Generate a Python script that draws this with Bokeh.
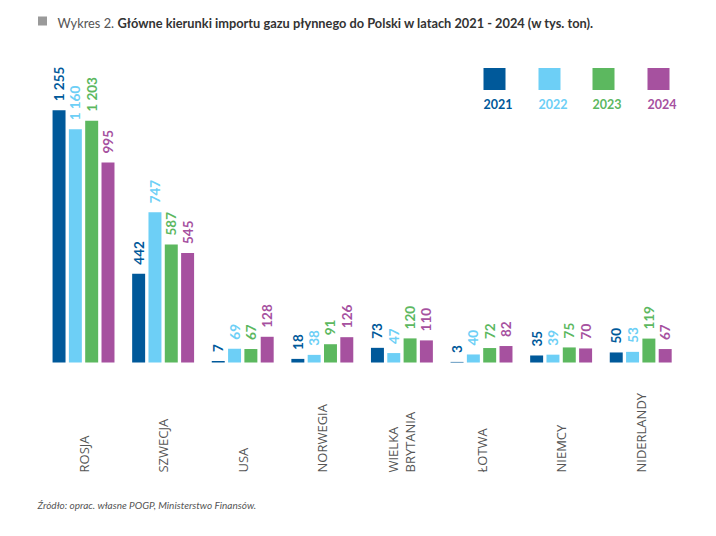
import numpy as np
from bokeh.plotting import figure
from bokeh.models import Range1d, ColumnDataSource
from bokeh.core.properties import value
from bokeh.embed import file_html
from bokeh.resources import INLINE

# ---- data ----
categories = ["ROSJA", "SZWECJA", "USA", "NORWEGIA", "WIELKA\nBRYTANIA", "ŁOTWA", "NIEMCY", "NIDERLANDY"]
years = ["2021", "2022", "2023", "2024"]
v2021 = [1255, 442, 7, 18, 73, 3, 35, 50]
v2022 = [1160, 747, 69, 38, 47, 40, 39, 53]
v2023 = [1203, 587, 67, 91, 120, 72, 75, 119]
v2024 = [995, 545, 128, 126, 110, 82, 70, 67]
series = [v2021, v2022, v2023, v2024]
colors = ["#00599a", "#6dcff6", "#5cb85f", "#a6519f"]

title_prefix = "Wykres 2."
title_main = "Główne kierunki importu gazu płynnego do Polski w latach 2021 - 2024 (w tys. ton)."
source_text = "Źródło: oprac. własne POGP, Ministerstwo Finansów."

W, H = 700, 520
X0, X1 = -1.043, 7.751
Y0, Y1 = -786, 1801


def px_x(px):
    return X0 + px * (X1 - X0) / W


def px_y(py):
    return Y1 - py * (Y1 - Y0) / H


def fmt(v):
    return f"{v:,}".replace(",", " ")


p = figure(width=W, height=H, x_range=Range1d(X0, X1), y_range=Range1d(Y0, Y1),
           output_backend="svg", toolbar_location=None, min_border=0,
           x_axis_location=None, y_axis_location=None)
p.outline_line_color = None
p.xgrid.visible = False
p.ygrid.visible = False
p.background_fill_color = "white"
p.border_fill_color = "white"

idx = np.arange(len(categories))
step = 0.205
width = 0.163
for k, (vals, col) in enumerate(zip(series, colors)):
    xs = idx + (k - 1.5) * step
    src = ColumnDataSource(dict(x=xs, top=vals, lab=[fmt(v) for v in vals]))
    p.vbar(x="x", top="top", bottom=0, width=width, source=src, color=col, line_color=None)
    p.text(x="x", y="top", text="lab", source=src, angle=np.pi / 2, y_offset=-9,
           text_align="left", text_baseline="middle", text_color=col,
           text_font=value("Lato"), text_font_style="bold", text_font_size="13.5px")

# category labels
csrc = ColumnDataSource(dict(x=idx, y=[0] * len(categories), t=categories))
p.text(x="x", y="y", text="t", source=csrc, angle=np.pi / 2, y_offset=110,
       text_align="left", text_baseline="middle", text_color="#555555",
       text_font=value("Open Sans"), text_font_size="13px", text_line_height=0.95)

# legend
lx = [494, 549, 603, 658]
lsrc = ColumnDataSource(dict(x=[px_x(v) for v in lx], y=[px_y(78.5)] * 4,
                             tx=[px_x(v - 11) for v in lx], ty=[px_y(103)] * 4,
                             c=colors, t=years))
p.scatter(x="x", y="y", source=lsrc, marker="square", size=22, color="c", line_color=None)
p.text(x="tx", y="ty", text="t", source=lsrc, text_color="c", text_align="left",
       text_baseline="middle", text_font=value("Lato"), text_font_style="bold",
       text_font_size="12.5px")

# title
p.scatter(x=[px_x(42)], y=[px_y(20.5)], marker="square", size=9, color="#9a9a9a", line_color=None)
p.text(x=[px_x(57)], y=[px_y(22)], text=[title_prefix], text_align="left", text_baseline="middle",
       text_color="#555555", text_font=value("Lato"), text_font_size="12.8px")
p.text(x=[px_x(117)], y=[px_y(22)], text=[title_main], text_align="left", text_baseline="middle",
       text_color="#333333", text_font=value("Lato"), text_font_style="bold", text_font_size="12.8px")

# source
p.text(x=[px_x(37)], y=[px_y(504)], text=[source_text], text_align="left", text_baseline="middle",
       text_color="#555555", text_font=value("Lato"), text_font_style="italic", text_font_size="10px")

open("out.html", "w").write(file_html(p, INLINE))
